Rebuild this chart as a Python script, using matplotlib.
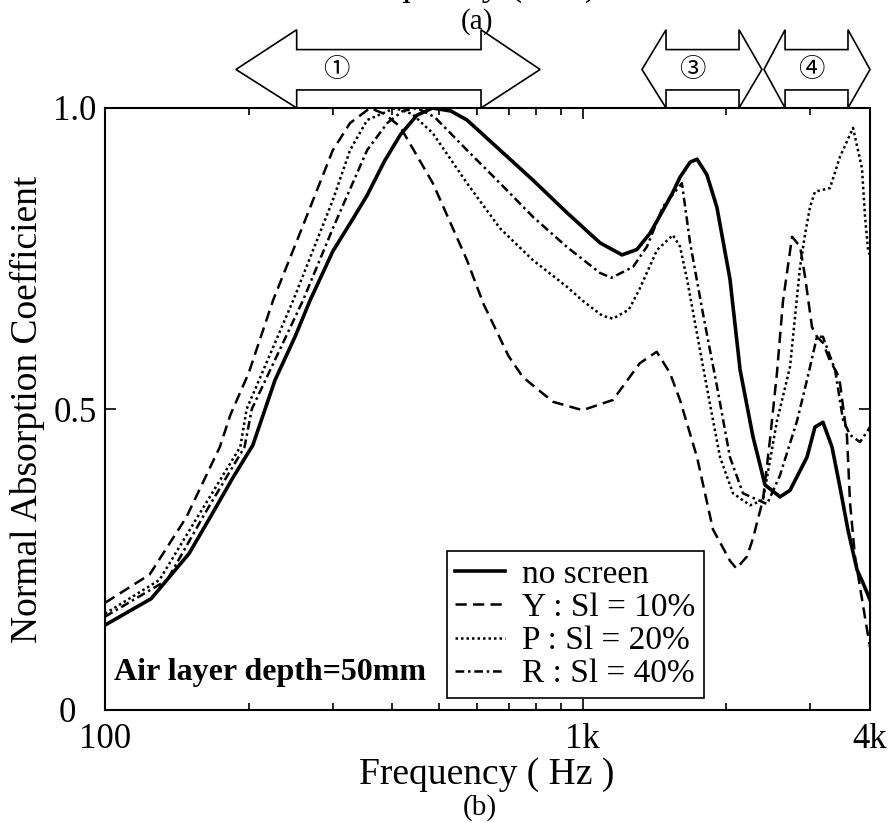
import matplotlib
matplotlib.use('Agg')
import matplotlib.pyplot as plt
from matplotlib.patches import Polygon
from matplotlib.ticker import FixedLocator, NullFormatter
import matplotlib.transforms as mtransforms

plt.rcParams['font.family'] = ['Liberation Serif', 'DejaVu Serif']

# no screen (solid)
f_none = [100, 125, 150, 168, 185, 204, 227, 250, 269, 300, 330, 354, 385, 415, 450, 485,
          530, 573, 672, 788, 928, 1088, 1210, 1300, 1385, 1474, 1546, 1600, 1680, 1737,
          1822, 1912, 2036, 2138, 2275, 2411, 2592, 2720, 2952, 3068, 3188, 3330, 3461,
          3597, 3757, 3868, 4000]
a_none = [0.141, 0.185, 0.26, 0.327, 0.385, 0.44, 0.548, 0.62, 0.681, 0.762, 0.815, 0.855,
          0.912, 0.955, 0.988, 1.0, 0.995, 0.98, 0.93, 0.88, 0.826, 0.776, 0.756, 0.765,
          0.792, 0.83, 0.86, 0.885, 0.91, 0.915, 0.889, 0.835, 0.716, 0.565, 0.454, 0.374,
          0.354, 0.365, 0.42, 0.47, 0.478, 0.437, 0.37, 0.299, 0.233, 0.211, 0.183]

# Y : Sl = 10% (dashed)
f_y = [100, 124, 148, 174, 183, 200, 225, 256, 300, 326, 359, 385, 415, 486, 573, 620, 700,
       750, 867, 1000, 1158, 1318, 1430, 1524, 1600, 1737, 1876, 2036, 2100, 2210, 2275,
       2388, 2470, 2554, 2630, 2747, 2855, 2924, 3024, 3097, 3188, 3298, 3412, 3461, 3580,
       3633, 3722, 3812, 3944, 4000]
a_y = [0.178, 0.225, 0.32, 0.437, 0.49, 0.56, 0.681, 0.792, 0.93, 0.975, 1.0, 0.99, 0.969,
       0.875, 0.747, 0.675, 0.588, 0.553, 0.512, 0.498, 0.515, 0.576, 0.595, 0.56, 0.515,
       0.42, 0.30, 0.248, 0.235, 0.255, 0.285, 0.35, 0.45, 0.56, 0.68, 0.786, 0.77, 0.72,
       0.636, 0.62, 0.61, 0.58, 0.56, 0.543, 0.454, 0.344, 0.254, 0.204, 0.133, 0.105]

# P : Sl = 20% (dotted)
f_p = [100, 130, 158, 192, 198, 248, 300, 326, 354, 405, 440, 486, 573, 672, 788, 928,
       1000, 1100, 1158, 1250, 1318, 1432, 1546, 1600, 1655, 1762, 1849, 1941, 2066, 2244,
       2388, 2554, 2720, 2786, 2855, 2924, 2996, 3068, 3298, 3461, 3686, 3848, 3905, 3963,
       4000]
a_p = [0.16, 0.216, 0.327, 0.437, 0.5, 0.681, 0.847, 0.93, 0.98, 1.0, 0.99, 0.958, 0.875,
       0.80, 0.747, 0.703, 0.68, 0.655, 0.65, 0.665, 0.70, 0.764, 0.789, 0.77, 0.716,
       0.598, 0.508, 0.42, 0.36, 0.34, 0.349, 0.48, 0.57, 0.653, 0.736, 0.79, 0.836, 0.861,
       0.867, 0.919, 0.967, 0.90, 0.82, 0.764, 0.755]

# R : Sl = 40% (dash-dot)
f_r = [100, 135, 162, 196, 203, 260, 300, 354, 390, 420, 450, 490, 573, 672, 788, 928,
       1088, 1150, 1276, 1365, 1474, 1615, 1680, 1788, 1912, 2036, 2168, 2435, 2592, 2813,
       2952, 3097, 3188, 3380, 3512, 3633, 3812, 3963, 4000]
a_r = [0.155, 0.216, 0.327, 0.437, 0.5, 0.681, 0.80, 0.93, 0.975, 0.995, 1.0, 0.985, 0.93,
       0.875, 0.819, 0.769, 0.726, 0.718, 0.736, 0.77, 0.836, 0.875, 0.776, 0.658, 0.538,
       0.42, 0.36, 0.342, 0.39, 0.48, 0.548, 0.62, 0.62, 0.565, 0.482, 0.457, 0.445, 0.465,
       0.47]

labels = ['no screen', 'Y : Sl = 10%', 'P : Sl = 20%', 'R : Sl = 40%']

# frequency bands marked above the plot: (outer left, body left, body right, outer right)
bands = [(188, 252, 613, 815), (1332, 1496, 2127, 2375), (2399, 2656, 3597, 4000)]
band_marks = ['①', '③', '④']
band_text_f = [305, 1696, 3010]

fig = plt.figure(figsize=(8.93, 8.23), dpi=100)
ax = fig.add_axes([105 / 893, 113 / 823, 765 / 893, 602 / 823])

ax.plot(f_none, a_none, color='black', lw=2.6, label=labels[0])
ax.plot(f_y, a_y, color='black', lw=1.8, linestyle=(0, (4.5, 2.5)), label=labels[1])
ax.plot(f_p, a_p, color='black', lw=1.8, linestyle=(0, (1, 1.2)), label=labels[2])
ax.plot(f_r, a_r, color='black', lw=1.8, linestyle=(0, (3.5, 1.5, 1, 1.5)), label=labels[3])

ax.set_xscale('log')
ax.set_xlim(100, 4000)
ax.set_ylim(0, 1.0)
ax.xaxis.set_major_locator(FixedLocator([100, 1000, 4000]))
ax.set_xticklabels(['100', '1k', '4k'])
ax.xaxis.set_minor_locator(FixedLocator([200, 300, 400, 500, 600, 700, 800, 900, 2000, 3000]))
ax.xaxis.set_minor_formatter(NullFormatter())
ax.set_yticks([0, 0.5, 1.0])
ax.set_yticklabels(['', '0.5', '1.0'])
ax.tick_params(which='both', direction='in', top=True, right=True, labelsize=25, width=1.2)
ax.tick_params(which='major', length=8)
ax.tick_params(axis='x', which='major', pad=9)
ax.tick_params(axis='y', which='major', pad=6)
ax.tick_params(which='minor', length=5)
for sp in ax.spines.values():
    sp.set_linewidth(1.5)

# the zero of the y axis sits a little lower and further out than the others
ax.text(-0.049, -0.005, '0', transform=ax.transAxes, fontsize=25, ha='center', va='center')

ax.set_ylabel('Normal Absorption Coefficient', fontsize=27)
ax.yaxis.set_label_coords(-0.078, 0.5)
fig.text(487 / 893, 1 - 775 / 823, 'Frequency ( Hz )', fontsize=27, ha='center', va='center')
fig.text(480 / 893, 1 - 808 / 823, '(b)', fontsize=21, ha='center', va='center')
fig.text(477 / 893, 1 - 22 / 823, '(a)', fontsize=21, ha='center', va='center')
fig.text(470 / 893, 1 + 14 / 823, 'Frequency ( Hz )', fontsize=27, ha='center', va='center')

ax.text(0.012, 0.063, 'Air layer depth=50mm', transform=ax.transAxes, fontsize=23,
        fontweight='bold', ha='left', va='center')

leg = ax.legend(loc='upper left', bbox_to_anchor=(0.447, 0.264), fontsize=24,
                frameon=True, fancybox=False, edgecolor='black', framealpha=1,
                handlelength=1.5, handletextpad=0.5, labelspacing=0.08, borderpad=0.25,
                borderaxespad=0)
leg.get_frame().set_linewidth(1.2)

trans = mtransforms.blended_transform_factory(ax.transData, ax.transAxes)
y_mid, y_head_top, y_head_bot, y_body_top, y_body_bot = 1.064, 1.13, 1.0, 1.097, 1.03
for (tl, bl, br, tr), mark, ft in zip(bands, band_marks, band_text_f):
    verts = [(tl, y_mid), (bl, y_head_top), (bl, y_body_top), (br, y_body_top),
             (br, y_head_top), (tr, y_mid), (br, y_head_bot), (br, y_body_bot),
             (bl, y_body_bot), (bl, y_head_bot)]
    poly = Polygon(verts, closed=True, facecolor='white', edgecolor='black', lw=1.2,
                   transform=trans, clip_on=False, zorder=5)
    ax.add_patch(poly)
    ax.text(ft, y_mid, mark, transform=trans, fontsize=19, ha='center', va='center',
            family=['Noto Sans CJK JP', 'DejaVu Sans'], zorder=6)

fig.savefig('out.png', dpi=100)
